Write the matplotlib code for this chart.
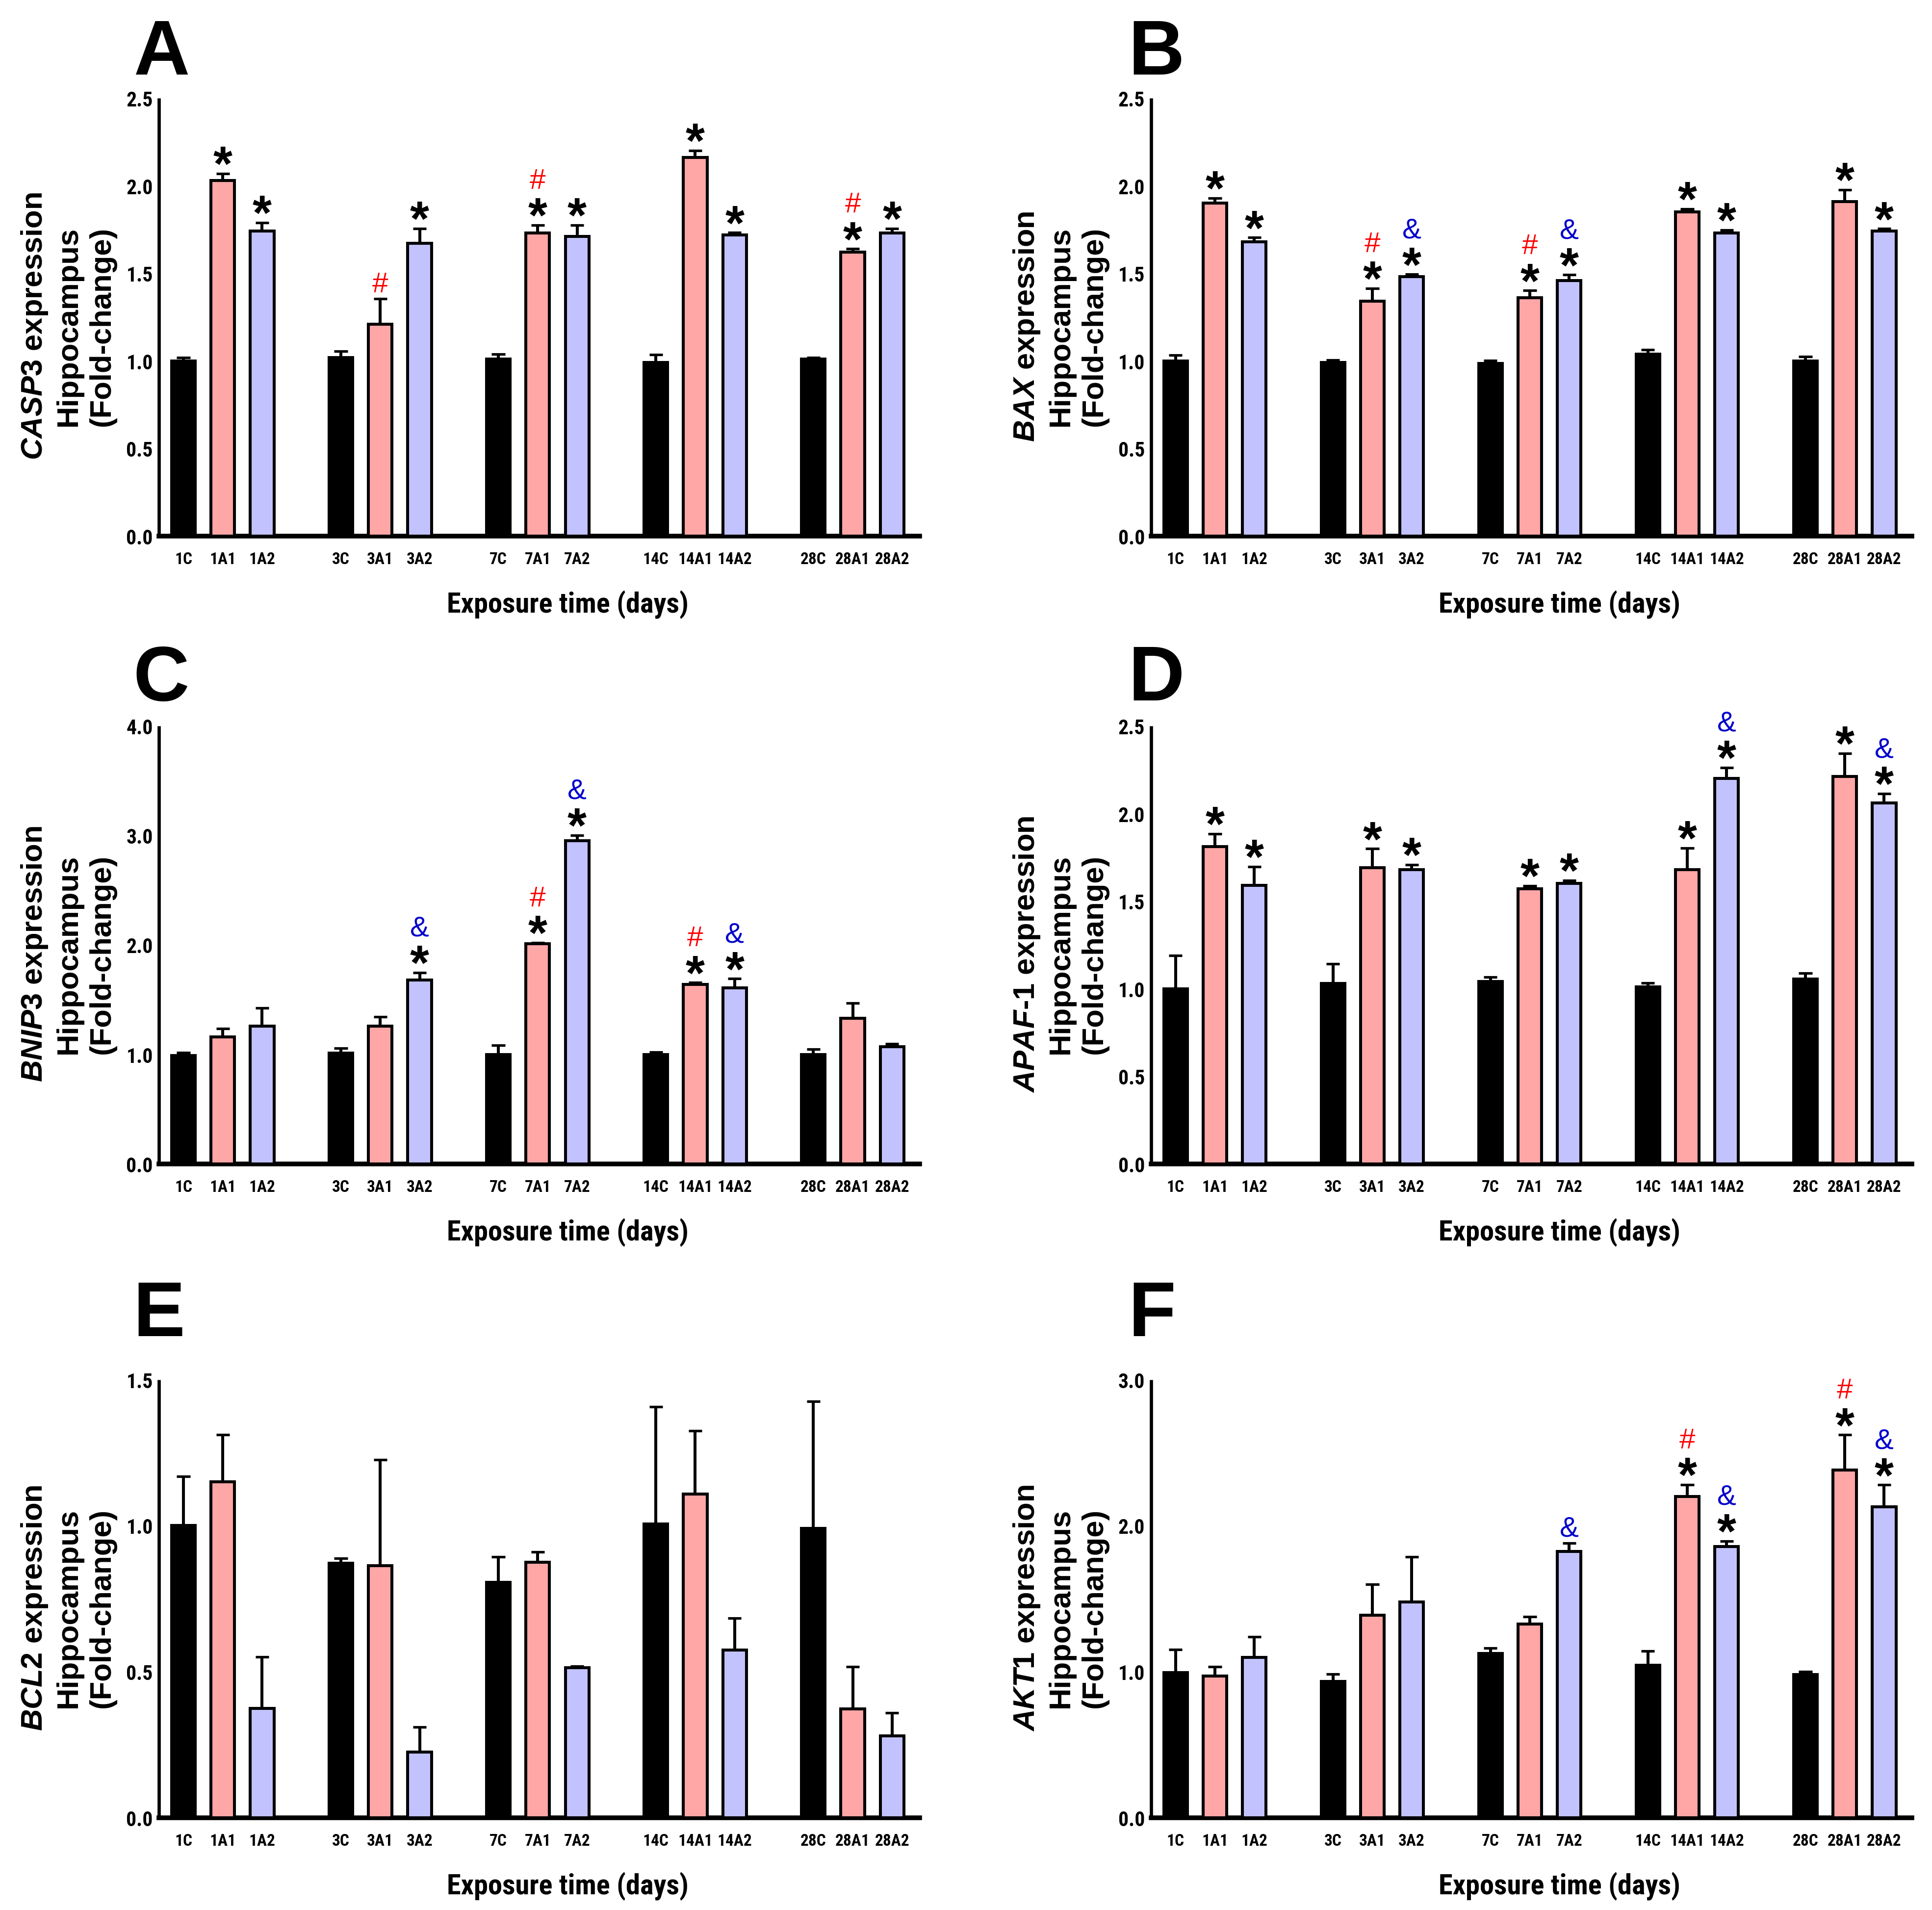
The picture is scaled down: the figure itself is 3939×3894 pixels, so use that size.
import matplotlib
matplotlib.use('Agg')
import matplotlib.pyplot as plt
from matplotlib import font_manager as fm
import numpy as np

# ---------------- data ----------------
categories = ['1C', '1A1', '1A2', '3C', '3A1', '3A2', '7C', '7A1', '7A2',
              '14C', '14A1', '14A2', '28C', '28A1', '28A2']
groups = ['C', 'A1', 'A2'] * 5

casp3_mean = [1.00, 2.03, 1.74, 1.02, 1.21, 1.67, 1.01, 1.73, 1.71, 0.99, 2.16, 1.72, 1.01, 1.62, 1.73]
casp3_sem = [0.02, 0.04, 0.05, 0.035, 0.145, 0.085, 0.03, 0.045, 0.065, 0.045, 0.04, 0.012, 0.008, 0.02, 0.026]
casp3_sig = ['', '*', '*', '', '#', '*', '', '*#', '*', '', '*', '*', '', '*#', '*']

bax_mean = [1.00, 1.90, 1.68, 0.99, 1.34, 1.48, 0.985, 1.36, 1.46, 1.04, 1.85, 1.73, 1.00, 1.91, 1.74]
bax_sem = [0.033, 0.03, 0.024, 0.014, 0.074, 0.014, 0.016, 0.042, 0.031, 0.023, 0.018, 0.017, 0.026, 0.067, 0.014]
bax_sig = ['', '*', '*', '', '*#', '*&', '', '*#', '*&', '', '*', '*', '', '*', '*']

bnip3_mean = [0.99, 1.16, 1.26, 1.01, 1.26, 1.68, 1.00, 2.01, 2.95, 1.00, 1.64, 1.61, 1.00, 1.33, 1.07]
bnip3_sem = [0.026, 0.074, 0.166, 0.045, 0.085, 0.067, 0.085, 0.01, 0.052, 0.023, 0.015, 0.082, 0.048, 0.137, 0.026]
bnip3_sig = ['', '', '', '', '', '*&', '', '*#', '*&', '', '*#', '*&', '', '', '']

apaf1_mean = [1.00, 1.81, 1.59, 1.03, 1.69, 1.68, 1.04, 1.57, 1.60, 1.01, 1.68, 2.20, 1.055, 2.21, 2.06]
apaf1_sem = [0.19, 0.074, 0.107, 0.112, 0.109, 0.028, 0.027, 0.018, 0.018, 0.023, 0.123, 0.062, 0.035, 0.134, 0.053]
apaf1_sig = ['', '*', '*', '', '*', '*', '', '*', '*', '', '*', '*&', '', '*', '*&']

bcl2_mean = [1.00, 1.15, 0.375, 0.872, 0.863, 0.225, 0.806, 0.875, 0.513, 1.006, 1.108, 0.575, 0.99, 0.372, 0.281]
bcl2_sem = [0.168, 0.161, 0.176, 0.017, 0.362, 0.086, 0.087, 0.035, 0.006, 0.402, 0.217, 0.108, 0.436, 0.145, 0.079]
bcl2_sig = [''] * 15

akt1_mean = [0.994, 0.969, 1.099, 0.935, 1.386, 1.478, 1.124, 1.325, 1.823, 1.044, 2.199, 1.856, 0.98, 2.38, 2.129]
akt1_sem = [0.158, 0.066, 0.14, 0.05, 0.214, 0.309, 0.037, 0.053, 0.058, 0.097, 0.083, 0.039, 0.019, 0.242, 0.15]
akt1_sig = ['', '', '', '', '', '', '', '', '&', '', '*#', '*&', '', '*#', '*&']

panel_letters = ['A', 'B', 'C', 'D', 'E', 'F']
genes = ['CASP3', 'BAX', 'BNIP3', 'APAF-1', 'BCL2', 'AKT1']
means = [casp3_mean, bax_mean, bnip3_mean, apaf1_mean, bcl2_mean, akt1_mean]
sems = [casp3_sem, bax_sem, bnip3_sem, apaf1_sem, bcl2_sem, akt1_sem]
sigs = [casp3_sig, bax_sig, bnip3_sig, apaf1_sig, bcl2_sig, akt1_sig]
y_max = [2.5, 2.5, 4.0, 2.5, 1.5, 3.0]
y_step = [0.5, 0.5, 1.0, 0.5, 0.5, 1.0]
xlabel_text = 'Exposure time (days)'

# ---------------- style ----------------
group_colors = {'C': '#000000', 'A1': '#FFA6A6', 'A2': '#C2C2FF'}
hash_color = '#FF0000'
amp_color = '#0000CC'

plt.rcParams['font.family'] = ['Liberation Sans', 'DejaVu Sans']
plt.rcParams['mathtext.fontset'] = 'custom'
plt.rcParams['mathtext.it'] = 'Liberation Sans:italic:bold'
plt.rcParams['mathtext.rm'] = 'Liberation Sans:bold'
plt.rcParams['mathtext.bf'] = 'Liberation Sans:bold'

# find a narrow bold font for tick labels
narrow_file = None
for f in fm.fontManager.ttflist:
    if ('Narrow' in f.name or f.stretch in ('condensed', 'semi-condensed')) and \
            (f.weight in ('bold', 700) or f.weight == 700) and f.style == 'normal':
        narrow_file = f.fname
        if 'Liberation' in f.name:
            break
if narrow_file:
    ytick_fp = fm.FontProperties(fname=narrow_file, size=10)
    xtick_fp = fm.FontProperties(fname=narrow_file, size=8)
    xlab_fp = fm.FontProperties(fname=narrow_file, size=14)
else:
    ytick_fp = fm.FontProperties(family='Liberation Sans', weight='bold', size=8.5)
    xtick_fp = fm.FontProperties(family='Liberation Sans', weight='bold', size=6.8)
    xlab_fp = fm.FontProperties(family='Liberation Sans', weight='bold', size=12)

W, H, DPI = 3939, 3895, 300
fig = plt.figure(figsize=(W / DPI, H / DPI), dpi=DPI)

col_x = [0.0823, 0.5958]
ax_w = 0.3937
row_y = [0.7191, 0.3905, 0.0483]
ax_h = 0.2293
letter_x = [0.069, 0.584]
letter_y = [0.961, 0.6334, 0.3006]

bar_w = 0.6
lw_edge = 1.45
px = 72.0 / DPI  # points per pixel

x = np.arange(len(categories)) + np.arange(len(categories)) // 3

for i in range(6):
    r, c = divmod(i, 2)
    ax = fig.add_axes([col_x[c], row_y[r], ax_w, ax_h])
    m = np.array(means[i])
    s = np.array(sems[i])
    cols = [group_colors[g] for g in groups]
    ax.bar(x, m, width=bar_w, color=cols, edgecolor='black', linewidth=lw_edge, zorder=3)
    ax.vlines(x, m, m + s, color='black', linewidth=lw_edge, zorder=2)
    ax.hlines(m + s, x - 0.17, x + 0.17, color='black', linewidth=1.25, zorder=2)

    for xi, top, sg in zip(x, m + s, sigs[i]):
        has_star = '*' in sg
        if has_star:
            ax.annotate('*', (xi, top), xytext=(0, -13 * px), textcoords='offset points',
                        ha='center', va='baseline', fontsize=24, fontweight='bold',
                        color='black', zorder=5)
        for sym, colr in (('#', hash_color), ('&', amp_color)):
            if sym in sg:
                off = 75 if has_star else 14
                ax.annotate(sym, (xi, top), xytext=(0, off * px), textcoords='offset points',
                            ha='center', va='baseline', fontsize=14, fontweight='normal',
                            color=colr, zorder=5)

    ax.set_xlim(-0.62, 18.70)
    ax.set_ylim(0, y_max[i])
    ticks = np.arange(0, y_max[i] + 1e-9, y_step[i])
    ax.set_yticks(ticks)
    ax.set_yticklabels(['%.1f' % t for t in ticks], fontproperties=ytick_fp)
    ax.set_xticks(x)
    ax.set_xticklabels(categories, fontproperties=xtick_fp)
    ax.tick_params(axis='y', length=0, pad=3)
    ax.tick_params(axis='x', length=0, pad=7.5)
    for sp in ('top', 'right'):
        ax.spines[sp].set_visible(False)
    ax.spines['left'].set_linewidth(1.6)
    ax.spines['bottom'].set_linewidth(2.3)
    ax.spines['left'].set_capstyle('butt')

    gene = genes[i]
    if '-' in gene:
        a, b = gene.split('-')
        gtxt = r'$\mathit{%s}$-$\mathit{%s}$' % (a, b)
    else:
        gtxt = r'$\mathit{%s}$' % gene
    ax.set_ylabel(gtxt + ' expression\nHippocampus\n(Fold-change)',
                  fontsize=14.8, fontweight='bold', linespacing=1.25)
    ax.yaxis.set_label_coords(-0.056, 0.48)
    ax.set_xlabel(xlabel_text, fontproperties=xlab_fp)
    ax.xaxis.set_label_coords(0.537, -0.123)

    fig.text(letter_x[c], letter_y[r], panel_letters[i], fontsize=38, fontweight='bold',
             ha='left', va='baseline')

fig.savefig('out.png', dpi=DPI)
